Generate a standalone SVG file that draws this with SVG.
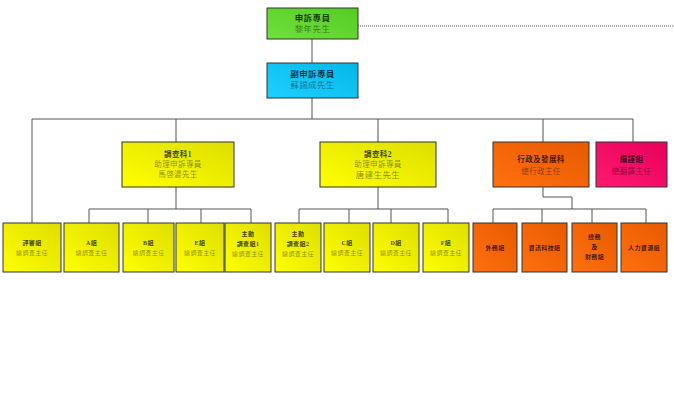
<svg xmlns="http://www.w3.org/2000/svg" width="674" height="400" viewBox="0 0 674 400">
<defs>
<linearGradient id="gY" x1="1" y1="0" x2="0" y2="1"><stop offset="0" stop-color="#dede00"/><stop offset="1" stop-color="#ffff00"/></linearGradient>
<linearGradient id="gO" x1="1" y1="0" x2="0" y2="1"><stop offset="0" stop-color="#e85a00"/><stop offset="1" stop-color="#ff7010"/></linearGradient>
<linearGradient id="gP" x1="1" y1="0" x2="0" y2="1"><stop offset="0" stop-color="#e8005a"/><stop offset="1" stop-color="#ff1a70"/></linearGradient>
<linearGradient id="gG" x1="1" y1="0" x2="0" y2="1"><stop offset="0" stop-color="#55cc22"/><stop offset="1" stop-color="#70e040"/></linearGradient>
<linearGradient id="gB" x1="1" y1="0" x2="0" y2="1"><stop offset="0" stop-color="#00b8e8"/><stop offset="1" stop-color="#20d0ff"/></linearGradient>
</defs>
<style>
rect{stroke:#333;stroke-width:1}
.y{fill:url(#gY)}.o{fill:url(#gO)}.p{fill:url(#gP)}.g{fill:url(#gG)}.b{fill:url(#gB)}
text{font-family:"Liberation Serif","Noto Sans CJK TC",serif;text-anchor:middle;letter-spacing:0.4px}
.t{font-weight:bold;fill:#000;fill-opacity:0.75}
.s{fill:#000;fill-opacity:0.45}
.L{font-size:8.5px}
.M{font-size:7.5px}
.S{font-size:6px}
#conn line,#conn polyline{stroke:#555;stroke-width:1;fill:none}
</style>
<g id="conn">
<line x1="358" y1="26" x2="674" y2="26" stroke-dasharray="1,1"/>
<line x1="312" y1="39" x2="312" y2="63"/>
<line x1="312" y1="98" x2="312" y2="119"/>
<line x1="32" y1="119" x2="633" y2="119"/>
<line x1="32" y1="119" x2="32" y2="223"/>
<line x1="176" y1="119" x2="176" y2="142"/>
<line x1="378" y1="119" x2="378" y2="142"/>
<line x1="543" y1="119" x2="543" y2="142"/>
<line x1="633" y1="119" x2="633" y2="142"/>
<line x1="176" y1="187" x2="176" y2="209"/>
<line x1="89" y1="209" x2="251" y2="209"/>
<line x1="89" y1="209" x2="89" y2="223"/>
<line x1="148" y1="209" x2="148" y2="223"/>
<line x1="201" y1="209" x2="201" y2="223"/>
<line x1="251" y1="209" x2="251" y2="223"/>
<line x1="378" y1="187" x2="378" y2="209"/>
<line x1="299" y1="209" x2="448" y2="209"/>
<line x1="299" y1="209" x2="299" y2="223"/>
<line x1="349" y1="209" x2="349" y2="223"/>
<line x1="391" y1="209" x2="391" y2="223"/>
<line x1="448" y1="209" x2="448" y2="223"/>
<polyline points="543,187 543,197 572,197 572,209"/>
<line x1="493" y1="209" x2="646" y2="209"/>
<line x1="493" y1="209" x2="493" y2="223"/>
<line x1="542" y1="209" x2="542" y2="223"/>
<line x1="592" y1="209" x2="592" y2="223"/>
<line x1="646" y1="209" x2="646" y2="223"/>
</g>
<g id="n-top"><rect class="g" x="267" y="8" width="91" height="31"/><text class="t L" x="312.5" y="21">申訴專員</text><text class="s L" x="312.5" y="32">黎年先生</text></g>
<g id="n-deputy"><rect class="b" x="267" y="63" width="91" height="35"/><text class="t L" x="312.5" y="77">副申訴專員</text><text class="s L" x="312.5" y="88">蘇錫成先生</text></g>
<g id="n-inv1"><rect class="y" x="122" y="142" width="112" height="45"/><text class="t M" x="178" y="157">調查科1</text><text class="s M" x="178" y="167">助理申訴專員</text><text class="s M" x="178" y="177">馬啓濃先生</text></g>
<g id="n-inv2"><rect class="y" x="320" y="142" width="116" height="45"/><text class="t M" x="378" y="157">調查科2</text><text class="s M" x="378" y="167">助理申訴專員</text><text class="s L" x="378" y="178">唐建生先生</text></g>
<g id="n-admin"><rect class="o" x="493" y="142" width="96" height="45"/><text class="t M" x="541" y="162">行政及發展科</text><text class="s M" x="541" y="174">總行政主任</text></g>
<g id="n-trans"><rect class="p" x="596" y="142" width="71" height="45"/><text class="t M" x="631.5" y="162">編譯組</text><text class="s M" x="631.5" y="174">總翻譯主任</text></g>
<g id="n-review"><rect class="y" x="3" y="223" width="58" height="49"/><text class="t S" x="32" y="245">評審組</text><text class="s S" x="32" y="255">總調查主任</text></g>
<g id="n-a"><rect class="y" x="64" y="223" width="55" height="49"/><text class="t S" x="91.5" y="245">A組</text><text class="s S" x="91.5" y="255">總調查主任</text></g>
<g id="n-b"><rect class="y" x="123" y="223" width="51" height="49"/><text class="t S" x="148.5" y="245">B組</text><text class="s S" x="148.5" y="255">總調查主任</text></g>
<g id="n-e"><rect class="y" x="176" y="223" width="48" height="49"/><text class="t S" x="200" y="245">E組</text><text class="s S" x="200" y="255">總調查主任</text></g>
<g id="n-act1"><rect class="y" x="225" y="223" width="46" height="49"/><text class="t S" x="248" y="236">主動</text><text class="t S" x="248" y="246">調查組1</text><text class="s S" x="248" y="256">總調查主任</text></g>
<g id="n-act2"><rect class="y" x="275" y="223" width="46" height="49"/><text class="t S" x="298" y="236">主動</text><text class="t S" x="298" y="246">調查組2</text><text class="s S" x="298" y="256">總調查主任</text></g>
<g id="n-c"><rect class="y" x="324" y="223" width="46" height="49"/><text class="t S" x="347" y="245">C組</text><text class="s S" x="347" y="255">總調查主任</text></g>
<g id="n-d"><rect class="y" x="373" y="223" width="46" height="49"/><text class="t S" x="396" y="245">D組</text><text class="s S" x="396" y="255">總調查主任</text></g>
<g id="n-f"><rect class="y" x="423" y="223" width="46" height="49"/><text class="t S" x="446" y="245">F組</text><text class="s S" x="446" y="255">總調查主任</text></g>
<g id="n-ext"><rect class="o" x="473" y="223" width="44" height="49"/><text class="t S" x="495" y="250">外務組</text></g>
<g id="n-it"><rect class="o" x="522" y="223" width="45" height="49"/><text class="t S" x="544.5" y="250">資訊科技組</text></g>
<g id="n-gen"><rect class="o" x="572" y="223" width="45" height="49"/><text class="t S" x="594.5" y="239">總務</text><text class="t S" x="594.5" y="249">及</text><text class="t S" x="594.5" y="259">財務組</text></g>
<g id="n-hr"><rect class="o" x="621" y="223" width="46" height="49"/><text class="t S" x="644" y="250">人力資源組</text></g>
</svg>
